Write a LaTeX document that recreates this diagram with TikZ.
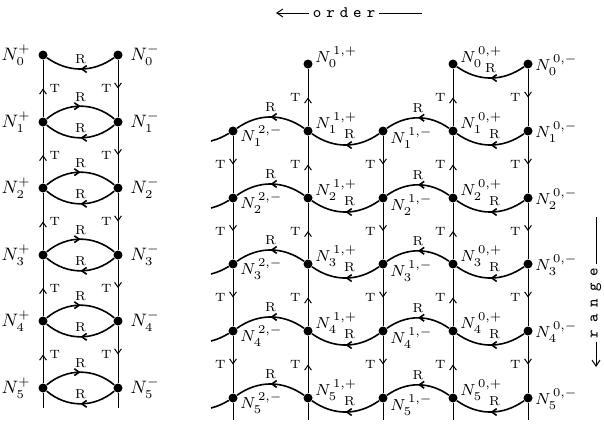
\documentclass[tikz,border=0pt]{standalone}
\usepackage{tikz}
\usepackage{amsmath}
\usetikzlibrary{positioning,arrows.meta,decorations.markings}

\tikzset{
  dot/.style={circle,fill,inner sep=0pt,minimum size=4.5pt},
  nlab/.style={font=\small,inner sep=1pt},
  nlabr/.style={font=\footnotesize,inner sep=1pt,anchor=base west},
  tlab/.style={font=\fontsize{6}{7}\selectfont,inner sep=1pt},
  rlab/.style={font=\fontsize{6.5}{7}\selectfont,inner sep=1pt},
  flow/.style={postaction={decorate},decoration={markings,
    mark=at position 0.5 with {\arrow{Straight Barb[length=2.4pt,width=3.4pt]}}}},
  tedge/.style={flow,line width=0.5pt},
  rcurve/.style={flow,line width=0.8pt},
  axislab/.style={font=\footnotesize\ttfamily,inner sep=1.5pt}
}

\begin{document}
\begin{tikzpicture}[x=0.5pt,y=0.5pt]
\useasboundingbox (0,0) rectangle (604,425);
% left ladder
\node[dot] (p0) at (43,370) {};
\node[dot] (m0) at (118,370) {};
\node[dot] (p1) at (43,303) {};
\node[dot] (m1) at (118,303) {};
\node[dot] (p2) at (43,237) {};
\node[dot] (m2) at (118,237) {};
\node[dot] (p3) at (43,170) {};
\node[dot] (m3) at (118,170) {};
\node[dot] (p4) at (43,104) {};
\node[dot] (m4) at (118,104) {};
\node[dot] (p5) at (43,37) {};
\node[dot] (m5) at (118,37) {};
\coordinate (pb) at (43,17);
\coordinate (mb) at (118,17);
\node[nlab,left=2.5pt of p0] (np0) {$N_0^+$};
\node[nlab,right=2.5pt of m0] (nm0) {$N_0^-$};
\node[nlab,left=2.5pt of p1] (np1) {$N_1^+$};
\node[nlab,right=2.5pt of m1] (nm1) {$N_1^-$};
\node[nlab,left=2.5pt of p2] (np2) {$N_2^+$};
\node[nlab,right=2.5pt of m2] (nm2) {$N_2^-$};
\node[nlab,left=2.5pt of p3] (np3) {$N_3^+$};
\node[nlab,right=2.5pt of m3] (nm3) {$N_3^-$};
\node[nlab,left=2.5pt of p4] (np4) {$N_4^+$};
\node[nlab,right=2.5pt of m4] (nm4) {$N_4^-$};
\node[nlab,left=2.5pt of p5] (np5) {$N_5^+$};
\node[nlab,right=2.5pt of m5] (nm5) {$N_5^-$};
\draw[tedge] (p1) -- node[tlab,right=2pt] (tp1) {T} (p0);
\draw[tedge] (p2) -- node[tlab,right=2pt] (tp2) {T} (p1);
\draw[tedge] (p3) -- node[tlab,right=2pt] (tp3) {T} (p2);
\draw[tedge] (p4) -- node[tlab,right=2pt] (tp4) {T} (p3);
\draw[tedge] (p5) -- node[tlab,right=2pt] (tp5) {T} (p4);
\draw[line width=0.5pt] (p5) -- (pb);
\draw[tedge] (m0) -- node[tlab,left=2pt] (tm1) {T} (m1);
\draw[tedge] (m1) -- node[tlab,left=2pt] (tm2) {T} (m2);
\draw[tedge] (m2) -- node[tlab,left=2pt] (tm3) {T} (m3);
\draw[tedge] (m3) -- node[tlab,left=2pt] (tm4) {T} (m4);
\draw[tedge] (m4) -- node[tlab,left=2pt] (tm5) {T} (m5);
\draw[line width=0.5pt] (m5) -- (mb);
\draw[rcurve] (m0) to[bend left=35] node[rlab,above=1pt] (rd0) {R} (p0);
\draw[rcurve] (p1) to[bend left=40] node[rlab,above=1pt] (ru1) {R} (m1);
\draw[rcurve] (m1) to[bend left=40] node[rlab,above=1pt] (rd1) {R} (p1);
\draw[rcurve] (p2) to[bend left=40] node[rlab,above=1pt] (ru2) {R} (m2);
\draw[rcurve] (m2) to[bend left=40] node[rlab,above=1pt] (rd2) {R} (p2);
\draw[rcurve] (p3) to[bend left=40] node[rlab,above=1pt] (ru3) {R} (m3);
\draw[rcurve] (m3) to[bend left=40] node[rlab,above=1pt] (rd3) {R} (p3);
\draw[rcurve] (p4) to[bend left=40] node[rlab,above=1pt] (ru4) {R} (m4);
\draw[rcurve] (m4) to[bend left=40] node[rlab,above=1pt] (rd4) {R} (p4);
\draw[rcurve] (p5) to[bend left=40] node[rlab,above=1pt] (ru5) {R} (m5);
\draw[rcurve] (m5) to[bend left=40] node[rlab,above=1pt] (rd5) {R} (p5);
% right lattice
\node[dot] (b0) at (308,361) {};
\node[dot] (d0) at (453,361) {};
\node[dot] (e0) at (528,361) {};
\node[dot] (a1) at (233,294) {};
\node[dot] (b1) at (308,294) {};
\node[dot] (c1) at (383,294) {};
\node[dot] (d1) at (453,294) {};
\node[dot] (e1) at (528,294) {};
\node[dot] (a2) at (233,227) {};
\node[dot] (b2) at (308,227) {};
\node[dot] (c2) at (383,227) {};
\node[dot] (d2) at (453,227) {};
\node[dot] (e2) at (528,227) {};
\node[dot] (a3) at (233,161) {};
\node[dot] (b3) at (308,161) {};
\node[dot] (c3) at (383,161) {};
\node[dot] (d3) at (453,161) {};
\node[dot] (e3) at (528,161) {};
\node[dot] (a4) at (233,94) {};
\node[dot] (b4) at (308,94) {};
\node[dot] (c4) at (383,94) {};
\node[dot] (d4) at (453,94) {};
\node[dot] (e4) at (528,94) {};
\node[dot] (a5) at (233,27) {};
\node[dot] (b5) at (308,27) {};
\node[dot] (c5) at (383,27) {};
\node[dot] (d5) at (453,27) {};
\node[dot] (e5) at (528,27) {};
\coordinate (ab) at (233,5);
\coordinate (bb) at (308,5);
\coordinate (cb) at (383,5);
\coordinate (db) at (453,5);
\coordinate (eb) at (528,5);
\coordinate (t1) at (211,284);
\coordinate (t2) at (211,217);
\coordinate (t3) at (211,151);
\coordinate (t4) at (211,84);
\coordinate (t5) at (211,17);
\node[nlabr] (nb0) at ([yshift=1pt]b0.east) {$N_0^{\,1,+}$};
\node[nlabr] (nd0) at ([yshift=1pt]d0.east) {$N_0^{\,0,+}$};
\node[nlabr] (ne0) at ([yshift=-3pt]e0.east) {$N_0^{\,0,-}$};
\node[nlabr] (na1) at ([yshift=-5pt]a1.east) {$N_1^{\,2,-}$};
\node[nlabr] (nb1) at ([yshift=1.5pt]b1.east) {$N_1^{\,1,+}$};
\node[nlabr] (nc1) at ([yshift=-6pt]c1.east) {$N_1^{\,1,-}$};
\node[nlabr] (nd1) at ([yshift=1.5pt]d1.east) {$N_1^{\,0,+}$};
\node[nlabr] (ne1) at ([yshift=-3pt]e1.east) {$N_1^{\,0,-}$};
\node[nlabr] (na2) at ([yshift=-5pt]a2.east) {$N_2^{\,2,-}$};
\node[nlabr] (nb2) at ([yshift=1.5pt]b2.east) {$N_2^{\,1,+}$};
\node[nlabr] (nc2) at ([yshift=-6pt]c2.east) {$N_2^{\,1,-}$};
\node[nlabr] (nd2) at ([yshift=1.5pt]d2.east) {$N_2^{\,0,+}$};
\node[nlabr] (ne2) at ([yshift=-3pt]e2.east) {$N_2^{\,0,-}$};
\node[nlabr] (na3) at ([yshift=-5pt]a3.east) {$N_3^{\,2,-}$};
\node[nlabr] (nb3) at ([yshift=1.5pt]b3.east) {$N_3^{\,1,+}$};
\node[nlabr] (nc3) at ([yshift=-6pt]c3.east) {$N_3^{\,1,-}$};
\node[nlabr] (nd3) at ([yshift=1.5pt]d3.east) {$N_3^{\,0,+}$};
\node[nlabr] (ne3) at ([yshift=-3pt]e3.east) {$N_3^{\,0,-}$};
\node[nlabr] (na4) at ([yshift=-5pt]a4.east) {$N_4^{\,2,-}$};
\node[nlabr] (nb4) at ([yshift=1.5pt]b4.east) {$N_4^{\,1,+}$};
\node[nlabr] (nc4) at ([yshift=-6pt]c4.east) {$N_4^{\,1,-}$};
\node[nlabr] (nd4) at ([yshift=1.5pt]d4.east) {$N_4^{\,0,+}$};
\node[nlabr] (ne4) at ([yshift=-3pt]e4.east) {$N_4^{\,0,-}$};
\node[nlabr] (na5) at ([yshift=-5pt]a5.east) {$N_5^{\,2,-}$};
\node[nlabr] (nb5) at ([yshift=1.5pt]b5.east) {$N_5^{\,1,+}$};
\node[nlabr] (nc5) at ([yshift=-6pt]c5.east) {$N_5^{\,1,-}$};
\node[nlabr] (nd5) at ([yshift=1.5pt]d5.east) {$N_5^{\,0,+}$};
\node[nlabr] (ne5) at ([yshift=-3pt]e5.east) {$N_5^{\,0,-}$};
% vertical T lines
\draw[tedge] (a1) -- node[tlab,left=2.5pt] (ta2) {T} (a2);
\draw[tedge] (a2) -- node[tlab,left=2.5pt] (ta3) {T} (a3);
\draw[tedge] (a3) -- node[tlab,left=2.5pt] (ta4) {T} (a4);
\draw[tedge] (a4) -- node[tlab,left=2.5pt] (ta5) {T} (a5);
\draw[line width=0.5pt] (a5) -- (ab);
\draw[tedge] (b1) -- node[tlab,left=2.5pt] (tb1) {T} (b0);
\draw[tedge] (b2) -- node[tlab,left=2.5pt] (tb2) {T} (b1);
\draw[tedge] (b3) -- node[tlab,left=2.5pt] (tb3) {T} (b2);
\draw[tedge] (b4) -- node[tlab,left=2.5pt] (tb4) {T} (b3);
\draw[tedge] (b5) -- node[tlab,left=2.5pt] (tb5) {T} (b4);
\draw[line width=0.5pt] (b5) -- (bb);
\draw[tedge] (c1) -- node[tlab,left=2.5pt] (tc2) {T} (c2);
\draw[tedge] (c2) -- node[tlab,left=2.5pt] (tc3) {T} (c3);
\draw[tedge] (c3) -- node[tlab,left=2.5pt] (tc4) {T} (c4);
\draw[tedge] (c4) -- node[tlab,left=2.5pt] (tc5) {T} (c5);
\draw[line width=0.5pt] (c5) -- (cb);
\draw[tedge] (d1) -- node[tlab,left=2.5pt] (td1) {T} (d0);
\draw[tedge] (d2) -- node[tlab,left=2.5pt] (td2) {T} (d1);
\draw[tedge] (d3) -- node[tlab,left=2.5pt] (td3) {T} (d2);
\draw[tedge] (d4) -- node[tlab,left=2.5pt] (td4) {T} (d3);
\draw[tedge] (d5) -- node[tlab,left=2.5pt] (td5) {T} (d4);
\draw[line width=0.5pt] (d5) -- (db);
\draw[tedge] (e0) -- node[tlab,left=2.5pt] (te1) {T} (e1);
\draw[tedge] (e1) -- node[tlab,left=2.5pt] (te2) {T} (e2);
\draw[tedge] (e2) -- node[tlab,left=2.5pt] (te3) {T} (e3);
\draw[tedge] (e3) -- node[tlab,left=2.5pt] (te4) {T} (e4);
\draw[tedge] (e4) -- node[tlab,left=2.5pt] (te5) {T} (e5);
\draw[line width=0.5pt] (e5) -- (eb);
% R waves
\draw[rcurve] (e0) to[bend left=35] node[rlab,above=1pt] (rde0) {R} (d0);
\draw[line width=0.8pt] (a1) to[out=-150,in=15] (t1);
\draw[rcurve] (b1) to[out=145,in=35] node[rlab,above=1pt] (rab1) {R} (a1);
\draw[rcurve] (c1) to[out=-145,in=-35] node[rlab,above=1.5pt,xshift=2pt] (rbc1) {R} (b1);
\draw[rcurve] (d1) to[out=145,in=35] node[rlab,above=1pt] (rcd1) {R} (c1);
\draw[rcurve] (e1) to[out=-145,in=-35] node[rlab,above=1.5pt,xshift=2pt] (rde1) {R} (d1);
\draw[line width=0.8pt] (a2) to[out=-150,in=15] (t2);
\draw[rcurve] (b2) to[out=145,in=35] node[rlab,above=1pt] (rab2) {R} (a2);
\draw[rcurve] (c2) to[out=-145,in=-35] node[rlab,above=1.5pt,xshift=2pt] (rbc2) {R} (b2);
\draw[rcurve] (d2) to[out=145,in=35] node[rlab,above=1pt] (rcd2) {R} (c2);
\draw[rcurve] (e2) to[out=-145,in=-35] node[rlab,above=1.5pt,xshift=2pt] (rde2) {R} (d2);
\draw[line width=0.8pt] (a3) to[out=-150,in=15] (t3);
\draw[rcurve] (b3) to[out=145,in=35] node[rlab,above=1pt] (rab3) {R} (a3);
\draw[rcurve] (c3) to[out=-145,in=-35] node[rlab,above=1.5pt,xshift=2pt] (rbc3) {R} (b3);
\draw[rcurve] (d3) to[out=145,in=35] node[rlab,above=1pt] (rcd3) {R} (c3);
\draw[rcurve] (e3) to[out=-145,in=-35] node[rlab,above=1.5pt,xshift=2pt] (rde3) {R} (d3);
\draw[line width=0.8pt] (a4) to[out=-150,in=15] (t4);
\draw[rcurve] (b4) to[out=145,in=35] node[rlab,above=1pt] (rab4) {R} (a4);
\draw[rcurve] (c4) to[out=-145,in=-35] node[rlab,above=1.5pt,xshift=2pt] (rbc4) {R} (b4);
\draw[rcurve] (d4) to[out=145,in=35] node[rlab,above=1pt] (rcd4) {R} (c4);
\draw[rcurve] (e4) to[out=-145,in=-35] node[rlab,above=1.5pt,xshift=2pt] (rde4) {R} (d4);
\draw[line width=0.8pt] (a5) to[out=-150,in=15] (t5);
\draw[rcurve] (b5) to[out=145,in=35] node[rlab,above=1pt] (rab5) {R} (a5);
\draw[rcurve] (c5) to[out=-145,in=-35] node[rlab,above=1.5pt,xshift=2pt] (rbc5) {R} (b5);
\draw[rcurve] (d5) to[out=145,in=35] node[rlab,above=1pt] (rcd5) {R} (c5);
\draw[rcurve] (e5) to[out=-145,in=-35] node[rlab,above=1.5pt,xshift=2pt] (rde5) {R} (d5);
% axis words
\node[axislab] (order) at (344,412) {o\kern2.5pt r\kern2.5pt d\kern2.5pt e\kern2.5pt r};
\coordinate (ordl) at (276,412);
\coordinate (ordr) at (422,412);
\draw[line width=0.5pt,-{Straight Barb[length=3pt,width=4pt]}] (order.west) -- (ordl);
\draw[line width=0.5pt] (order.east) -- (ordr);
\node[axislab,rotate=90] (range) at (596,122) {r\kern3.5pt a\kern3.5pt n\kern3.5pt g\kern3.5pt e};
\coordinate (rngt) at (596,208);
\coordinate (rngb) at (596,58);
\draw[line width=0.5pt] (range.east) -- (rngt);
\draw[line width=0.5pt,-{Straight Barb[length=3pt,width=4pt]}] (range.west) -- (rngb);
\end{tikzpicture}
\end{document}
